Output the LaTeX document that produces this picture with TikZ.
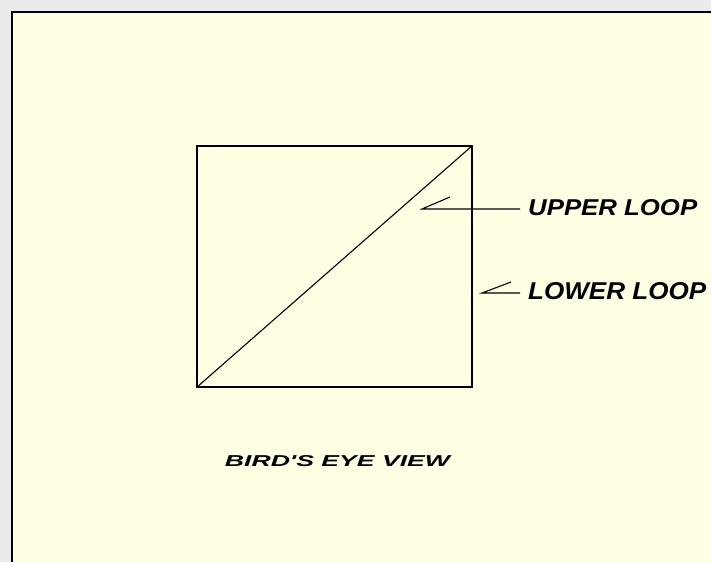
\documentclass[tikz,border=0pt]{standalone}
\usepackage{fontspec}
\setmainfont{Liberation Sans}
\usepackage{graphicx}
\definecolor{outerbg}{HTML}{EBEBEB}
\definecolor{panel}{HTML}{FFFFE3}
\tikzset{
  thinline/.style={line width=1.1pt, black},
  lbl/.style={inner sep=0pt, font=\bfseries\itshape},
}
\begin{document}
\begin{tikzpicture}[x=1pt,y=-1pt]
\useasboundingbox (0,0) rectangle (711,562);
\fill[outerbg] (0,0) rectangle (711,562);
\fill[panel] (11,12) rectangle (711,562);
\draw[line width=2pt] (11.5,562) -- (11.5,12) -- (711,12);
\node[draw, thinline, minimum width=275pt, minimum height=241pt, inner sep=0pt] (sq) at (334.5,266.5) {};
\draw[thinline] (sq.south west) -- (sq.north east);
\node[lbl, anchor=west] (up) at (528,208) {\resizebox{169pt}{16pt}{UPPER LOOP}};
\node[lbl, anchor=west] (lo) at (528,291.5) {\resizebox{178pt}{17pt}{LOWER LOOP}};
\node[lbl] (bev) at (337.5,461.5) {\resizebox{225pt}{11pt}{BIRD\textquotesingle S EYE VIEW}};
\coordinate (upend) at (422,209);
\coordinate (upbarb) at (450,197);
\coordinate (loend) at (482,293);
\coordinate (lobarb) at (511,282);
\draw[thinline] ([xshift=-8pt]up.west |- upend) -- (upend) -- (upbarb);
\draw[thinline] ([xshift=-8pt]lo.west |- loend) -- (loend) -- (lobarb);
\end{tikzpicture}
\end{document}
